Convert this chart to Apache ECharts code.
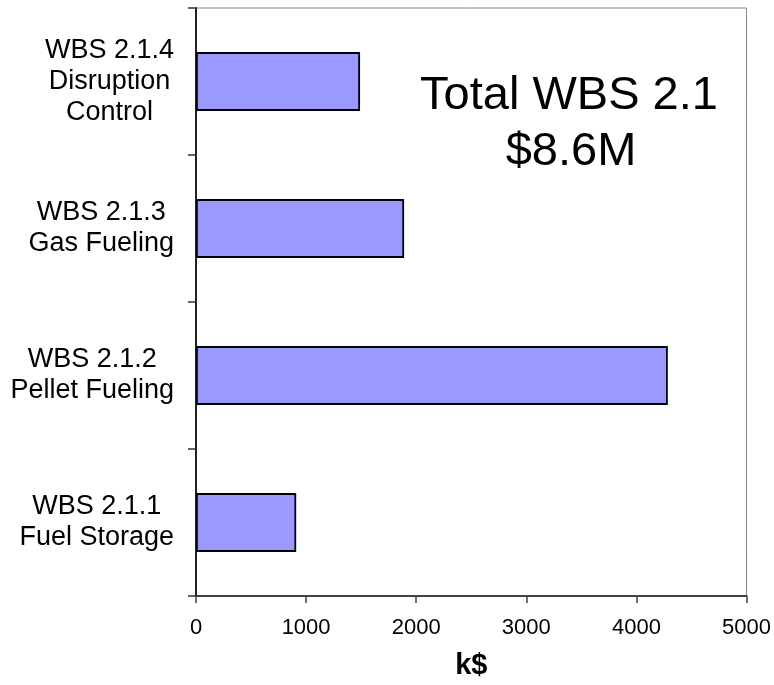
<!DOCTYPE html>
<html>
<head>
<meta charset="utf-8">
<script src="https://cdn.jsdelivr.net/npm/echarts@6/dist/echarts.min.js"></script>
<style>
html,body{margin:0;padding:0;background:#fff;}
#chart{width:774px;height:685px;}
</style>
</head>
<body>
<div id="chart"></div>
<script>
const categories = [
  ['WBS 2.1.1', 'Fuel Storage'],
  ['WBS 2.1.2', 'Pellet Fueling'],
  ['WBS 2.1.3', 'Gas Fueling'],
  ['WBS 2.1.4', 'Disruption', 'Control']
];
const costs = [910, 4285, 1890, 1490];
const xTicks = [0, 1000, 2000, 3000, 4000, 5000];
const totalLines = ['Total WBS 2.1', '$8.6M'];
const xName = 'k$';

const FONT = '"Liberation Sans", Arial, sans-serif';
const chart = echarts.init(document.getElementById('chart'), null, {renderer: 'canvas'});

const catNames = categories.map(c => c.join('\n'));

chart.setOption({
  animation: false,
  backgroundColor: '#ffffff',
  grid: {
    left: 196, right: 25, top: 8, bottom: 88,
    show: true, borderColor: '#888888', borderWidth: 1, backgroundColor: 'transparent'
  },
  xAxis: {
    type: 'value',
    min: xTicks[0], max: xTicks[xTicks.length - 1], interval: 1000,
    name: xName,
    nameLocation: 'middle',
    nameGap: 55,
    nameTextStyle: {fontFamily: FONT, fontSize: 29, fontWeight: 'bold', color: '#000'},
    axisLine: {show: true, onZero: false, lineStyle: {color: '#404040', width: 2}},
    axisTick: {show: true, length: 7, lineStyle: {color: '#404040', width: 1.5}},
    splitLine: {show: false},
    axisLabel: {
      fontFamily: FONT, fontSize: 22, color: '#000', margin: 21,
      formatter: v => xTicks.includes(v) ? String(v) : ''
    }
  },
  yAxis: {
    type: 'category',
    data: catNames,
    axisLine: {show: true, lineStyle: {color: '#222222', width: 2}},
    axisTick: {show: true, length: 8, alignWithLabel: false, lineStyle: {color: '#333333', width: 1.5}},
    splitLine: {show: false},
    axisLabel: {
      margin: 22,
      align: 'right',
      formatter: v => v.split('\n').map(s => '{a|' + s + '}').join('\n'),
      rich: {
        a: {fontFamily: FONT, fontSize: 27, color: '#000', align: 'center', lineHeight: 31}
      }
    }
  },
  series: [{
    type: 'bar',
    data: costs,
    barWidth: '40%',
    itemStyle: {color: '#9999FF', borderColor: '#000000', borderWidth: 1.8},
    silent: true
  }],
  graphic: [
    {id: 't1', type: 'text', x: 569, y: 120, style: {text: totalLines[0], fill: '#000', font: '47px ' + FONT, align: 'center', verticalAlign: 'bottom'}, z: 100},
    {id: 't2', type: 'text', x: 571, y: 176, style: {text: totalLines[1], fill: '#000', font: '47px ' + FONT, align: 'center', verticalAlign: 'bottom'}, z: 100}
  ]
});
</script>
</body>
</html>
